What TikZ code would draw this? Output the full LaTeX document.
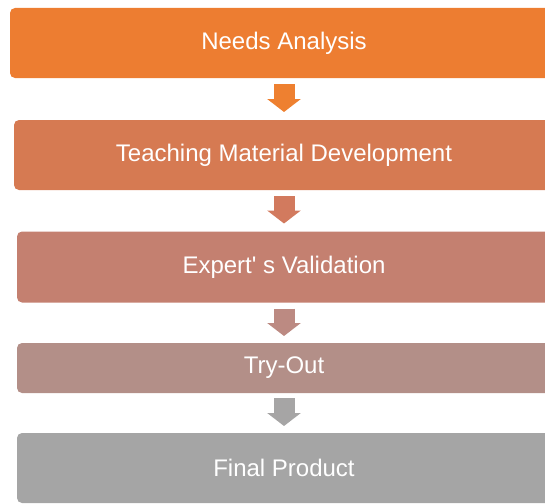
\documentclass[tikz,border=0pt]{standalone}
\usepackage{fontspec}
\setmainfont{Liberation Sans}
\usetikzlibrary{arrows.meta}

\definecolor{needscol}{HTML}{ED7D31}
\definecolor{teachcol}{HTML}{D67A52}
\definecolor{expertcol}{HTML}{C48070}
\definecolor{trycol}{HTML}{B38F88}
\definecolor{finalcol}{HTML}{A5A5A5}
\definecolor{arrowone}{HTML}{EE8030}
\definecolor{arrowtwo}{HTML}{D27A5E}
\definecolor{arrowthree}{HTML}{BC8A82}
\definecolor{arrowfour}{HTML}{A6A5A5}

\begin{document}
\begin{tikzpicture}[x=1pt,y=1pt]
    \tikzstyle{stage}=[rounded corners=5pt, inner sep=0pt, outer sep=0pt, text=white, font=\fontsize{24}{28}\selectfont]
    \tikzstyle{flow}=[line width=21pt, -{Triangle[width=33pt,length=13pt]}]

    \useasboundingbox (0,0) rectangle (545,-503);
    \clip (0,0) rectangle (545,-503);

    % stages
    \node[stage, fill=needscol, minimum width=548pt, minimum height=70pt] (needs) at (284,-43) {Needs Analysis};
    \node[stage, fill=teachcol, minimum width=540pt, minimum height=70pt] (teach) at (284,-155) {Teaching Material Development};
    \node[stage, fill=expertcol, minimum width=534pt, minimum height=71pt] (expert) at (284,-267) {Expert\textquotesingle{} s Validation};
    \node[stage, fill=trycol, minimum width=534pt, minimum height=50pt] (tryout) at (284,-368) {Try-Out};
    \node[stage, fill=finalcol, minimum width=534pt, minimum height=70pt] (final) at (284,-468) {Final Product};

    % arrows
    \draw[flow, draw=arrowone] ([yshift=-6pt]needs.south) -- ([yshift=8pt]teach.north);
    \draw[flow, draw=arrowtwo] ([yshift=-6pt]teach.south) -- ([yshift=8pt]expert.north);
    \draw[flow, draw=arrowthree] ([yshift=-6pt]expert.south) -- ([yshift=7pt]tryout.north);
    \draw[flow, draw=arrowfour] ([yshift=-5pt]tryout.south) -- ([yshift=7pt]final.north);

\end{tikzpicture}
\end{document}
